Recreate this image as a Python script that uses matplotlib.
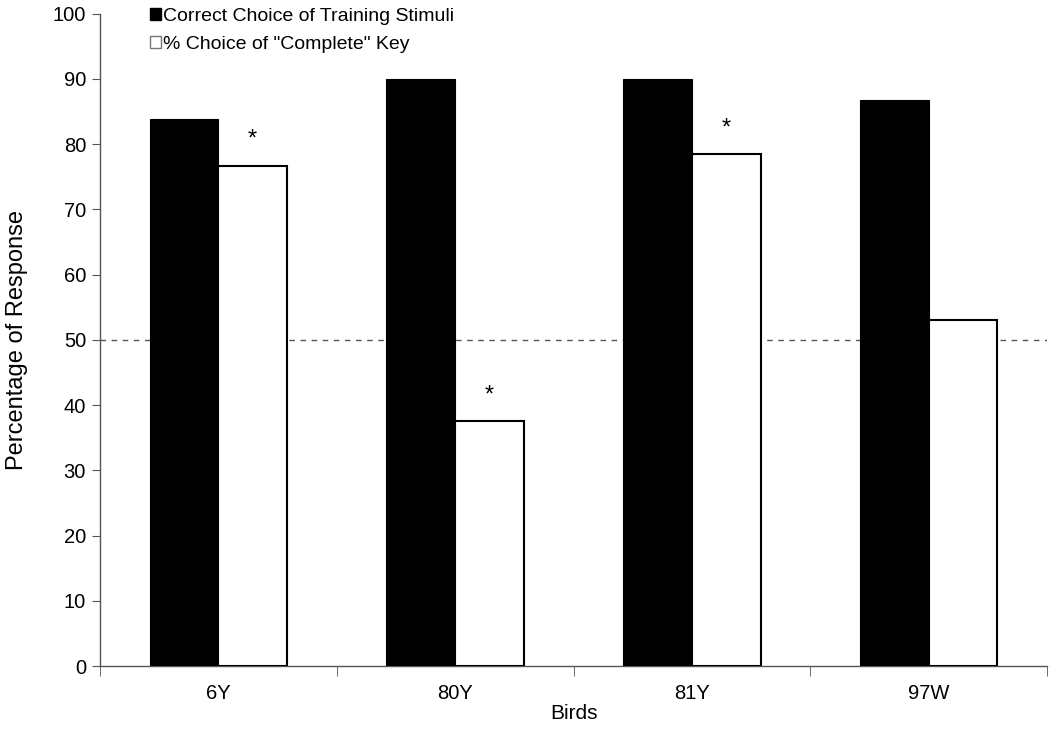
import matplotlib.pyplot as plt
import numpy as np
from matplotlib.patches import Patch

plt.rcParams['font.family'] = ['Liberation Sans', 'DejaVu Sans']

birds = ["6Y", "80Y", "81Y", "97W"]
correct_choice = [83.8, 90.0, 90.0, 86.8]
complete_key = [76.7, 37.5, 78.4, 53.1]
significant = [True, True, True, False]

fig = plt.figure(figsize=(10.5, 7.34), dpi=100)
ax = fig.add_axes([0.0952, 0.0926, 0.902, 0.889])

x = np.arange(len(birds))
w = 0.29
ax.bar(x - w / 2, correct_choice, w, color="black", edgecolor="black", lw=0.8, zorder=3)
ax.bar(x + w / 2, complete_key, w, color="white", edgecolor="black", lw=1.5, zorder=3)

# chance line
ax.axhline(50, color="#555555", lw=1.0, ls=(0, (4, 4)), zorder=1)

for xi, v, s in zip(x, complete_key, significant):
    if s:
        ax.text(xi + w / 2, v + 2.3, "*", ha="center", va="bottom", fontsize=17)

ax.set_xlim(-0.5, len(birds) - 0.5)
ax.set_ylim(0, 100)
ax.set_yticks(np.arange(0, 101, 10))
ax.set_xticks(x)
ax.set_xticklabels(birds)
ax.set_xticks(np.arange(-0.5, len(birds)), minor=True)
ax.tick_params(axis="x", which="major", length=0, pad=13, labelsize=14.5)
ax.tick_params(axis="x", which="minor", length=7, color="#555555", direction="out")
ax.tick_params(axis="y", length=6, color="#555555", labelsize=14.5, pad=4)

for sp in ["top", "right"]:
    ax.spines[sp].set_visible(False)
for sp in ["left", "bottom"]:
    ax.spines[sp].set_color("#555555")
    ax.spines[sp].set_linewidth(1.0)

ax.set_xlabel("Birds", fontsize=15, labelpad=1)
ax.set_ylabel("Percentage of Response", fontsize=17, labelpad=18)

handles = [Patch(facecolor="black", edgecolor="black"),
           Patch(facecolor="white", edgecolor="#777777")]
ax.legend(handles, ["Correct Choice of Training Stimuli", '% Choice of "Complete" Key'],
          loc="upper left", bbox_to_anchor=(0.045, 1.02), frameon=False,
          fontsize=14, handlelength=0.55, handleheight=0.55, handletextpad=0.1,
          labelspacing=0.55, borderaxespad=0)

fig.savefig("out.png", dpi=100)
